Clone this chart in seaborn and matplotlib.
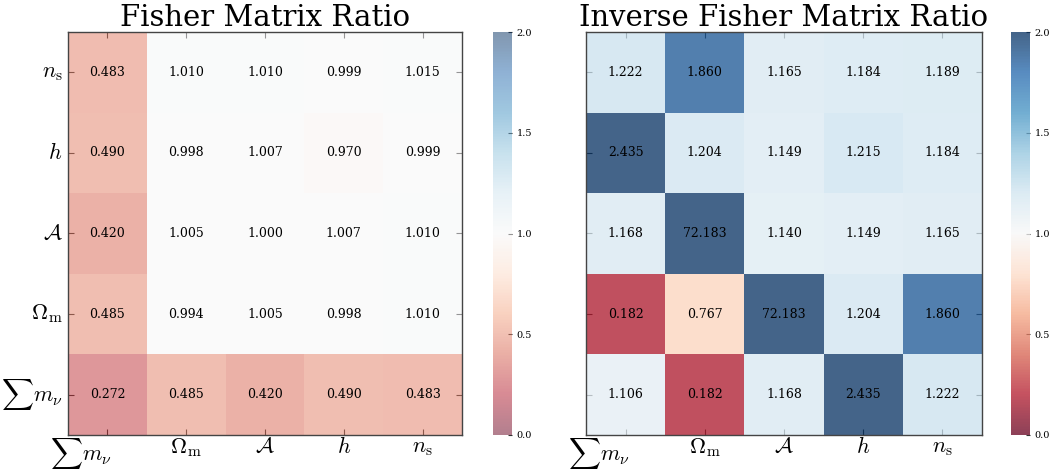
import numpy as np
import pandas as pd
import seaborn as sns
import matplotlib
matplotlib.use("Agg")
import matplotlib.pyplot as plt
import matplotlib.transforms as mtrans

params = [r'$\sum m_\nu$', r'$\Omega_{\rm m}$', r'$\mathcal{A}$', r'$h$', r'$n_{\rm s}$']

# rows / columns ordered as params (row 0 drawn at bottom)
fisher_ratio = [
    [0.272, 0.485, 0.420, 0.490, 0.483],
    [0.485, 0.994, 1.005, 0.998, 1.010],
    [0.420, 1.005, 1.000, 1.007, 1.010],
    [0.490, 0.998, 1.007, 0.970, 0.999],
    [0.483, 1.010, 1.010, 0.999, 1.015],
]
inv_fisher_ratio = [
    [1.106, 0.182, 1.168, 2.435, 1.222],
    [0.182, 0.767, 72.183, 1.204, 1.860],
    [1.168, 72.183, 1.140, 1.149, 1.165],
    [2.435, 1.204, 1.149, 1.215, 1.184],
    [1.222, 1.860, 1.165, 1.184, 1.189],
]
titles = ["Fisher Matrix Ratio", "Inverse Fisher Matrix Ratio"]
cbar_ticks = [0.0, 0.5, 1.0, 1.5, 2.0]

sns.set_style("white")
plt.rcParams['font.family'] = ['DejaVu Serif']
plt.rcParams['mathtext.fontset'] = 'cm'
plt.rcParams['text.color'] = 'black'
plt.rcParams['xtick.color'] = '#333333'
plt.rcParams['ytick.color'] = '#333333'
plt.rcParams['xtick.labelcolor'] = 'black'
plt.rcParams['ytick.labelcolor'] = 'black'

fig = plt.figure(figsize=(10.55, 4.7), dpi=100)
W, H = 1055, 470
def box(x0, x1, y0, y1):
    return [x0 / W, 1 - y1 / H, (x1 - x0) / W, (y1 - y0) / H]

layout = [
    (box(68, 462, 32, 435), box(493, 512, 32, 435), 0.5, True),
    (box(586, 982, 32, 435), box(1011, 1030, 32, 435), 0.75, False),
]

for data, title, (axb, cb, alpha, ylab) in zip([fisher_ratio, inv_fisher_ratio], titles, layout):
    ax = fig.add_axes(axb)
    cax = fig.add_axes(cb)
    df = pd.DataFrame(data, index=params, columns=params)
    sns.heatmap(df, ax=ax, cbar_ax=cax, cmap="RdBu", vmin=0, vmax=2, alpha=alpha,
                annot=True, fmt=".3f",
                annot_kws={"fontsize": 9, "color": "black", "family": "DejaVu Serif"},
                cbar_kws={"ticks": cbar_ticks})
    ax.invert_yaxis()
    ax.set_title(title, fontsize=21, pad=1, color='black')
    for s in ax.spines.values():
        s.set_visible(True)
        s.set_color("#444444")
        s.set_linewidth(1.0)
    ax.tick_params(axis='both', which='both', direction='in', length=4,
                   top=True, right=True, bottom=True, left=True)
    ax.set_xticklabels(params, fontsize=16, rotation=0)
    if ylab:
        ax.set_yticklabels(params, fontsize=16, rotation=0)
    else:
        ax.set_yticklabels([])
    ax.tick_params(axis='x', pad=1)
    ax.tick_params(axis='y', pad=4)
    first = ax.get_xticklabels()[0]
    first.set_ha('right')
    first.set_transform(first.get_transform() +
                        mtrans.ScaledTranslation(4 / 100, 0, fig.dpi_scale_trans))
    ax.set_xlabel("")
    ax.set_ylabel("")
    cbar = ax.collections[0].colorbar
    cbar.outline.set_visible(True)
    cbar.outline.set_edgecolor("#444444")
    cax.tick_params(labelsize=7, length=3, direction='in')
    cax.set_yticklabels([f"{t:.1f}" for t in cbar_ticks])

fig.savefig("out.png", dpi=100)
